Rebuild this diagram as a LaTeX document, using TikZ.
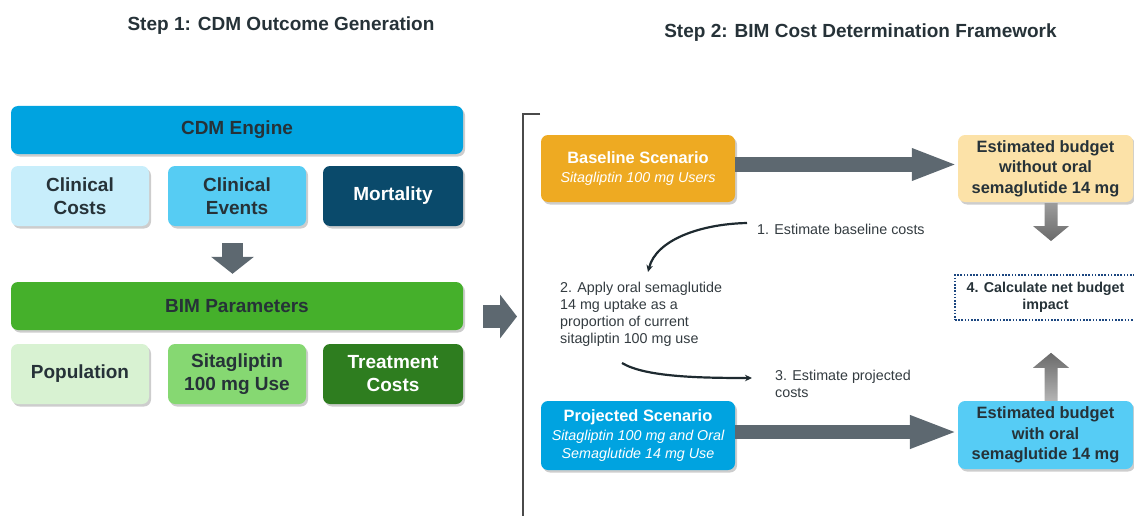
\documentclass[tikz,border=0pt]{standalone}
\usepackage{fontspec}
\setmainfont{Liberation Sans}
\usetikzlibrary{shadows,arrows.meta,calc}
\definecolor{txt}{HTML}{263238}
\definecolor{notetxt}{HTML}{333B40}
\definecolor{cdmblue}{HTML}{00A3E0}
\definecolor{ccblue}{HTML}{C8EEFB}
\definecolor{ceblue}{HTML}{56CCF3}
\definecolor{morblue}{HTML}{0A4A6B}
\definecolor{bimgreen}{HTML}{45B02B}
\definecolor{popgreen}{HTML}{D8F2D2}
\definecolor{sitgreen}{HTML}{86D872}
\definecolor{tcgreen}{HTML}{2E7D1F}
\definecolor{baseorange}{HTML}{EEAA22}
\definecolor{estpeach}{HTML}{FCE2A8}
\definecolor{estblue}{HTML}{56CCF5}
\definecolor{arrgray}{HTML}{5D6870}
\definecolor{gtop}{HTML}{9C9C9C}
\definecolor{gbot}{HTML}{6A6A6A}
\definecolor{glight}{HTML}{B4B4B4}
\definecolor{dotblue}{HTML}{1B4680}
\definecolor{curvecol}{HTML}{1E2A30}
\definecolor{brkgray}{HTML}{4A4A4A}
\newcommand\itfnt{\fontsize{14.3}{17.5}\selectfont\mdseries\itshape}
\begin{document}
\begin{tikzpicture}[x=1pt,y=-1pt,
  box/.style={rounded corners=7pt, inner sep=0pt, align=center, text=txt,
    font=\fontsize{19}{23}\selectfont\bfseries,
    drop shadow={shadow xshift=2pt, shadow yshift=-2.5pt, opacity=0.28, fill=black!70}},
  rbox/.style={rounded corners=7pt, inner sep=0pt, align=center, text=txt,
    font=\fontsize{16.4}{20.5}\selectfont\bfseries,
    drop shadow={shadow xshift=2pt, shadow yshift=-2.5pt, opacity=0.28, fill=black!70}},
  blockarrow/.style={draw=arrgray, color=arrgray},
  curve/.style={draw=curvecol, line width=2.2pt, -{Stealth[length=7pt,width=6.5pt]}},
  note/.style={inner sep=0pt, text=notetxt, font=\fontsize{14.3}{17.3}\selectfont, align=left},
  title/.style={inner sep=0pt, text=txt, font=\fontsize{19}{23}\selectfont\bfseries}
]
\useasboundingbox (0,0) rectangle (1134,516);
\clip (0,0) rectangle (1134,516);

% titles
\node[title] (title1) at (281,25.5) {Step 1: CDM Outcome Generation};
\node[title] (title2) at (860.5,33) {Step 2: BIM Cost Determination Framework};

% step 1 boxes
\node[box, fill=cdmblue, minimum width=452, minimum height=48] (cdm) at (237,130) {CDM Engine};
\node[box, fill=ccblue, minimum width=138, minimum height=60] (cc) at (80,196) {Clinical\\Costs};
\node[box, fill=ceblue, minimum width=138, minimum height=60] (ce) at (237,196) {Clinical\\Events};
\node[box, fill=morblue, text=white, minimum width=140, minimum height=60] (mo) at (393,196) {Mortality};
\node[box, fill=bimgreen, minimum width=452, minimum height=48] (bim) at (237,306) {BIM Parameters};
\node[box, fill=popgreen, minimum width=138, minimum height=60] (pop) at (80,374) {Population};
\node[box, fill=sitgreen, minimum width=138, minimum height=60] (sita) at (237,374) {Sitagliptin\\100 mg Use};
\node[box, fill=tcgreen, text=white, minimum width=140, minimum height=60] (tc) at (393,374) {Treatment\\Costs};

% step 1 arrows
\draw[blockarrow, line width=21pt, -{Triangle[length=17pt,width=42pt]}]
  ($(ce.south)+(-4.5,17)$) -- ($(bim.north)+(-4.5,-8)$);
\coordinate (brk) at (523,316.5);
\draw[blockarrow, line width=23pt, -{Triangle[length=17pt,width=43pt]}]
  ($(bim.east)+(20,10.5)$) -- ($(brk)+(-6,0)$);

% bracket
\draw[brkgray, line width=1.3pt] (540,114) -- (523,114) -- (523,520);

% step 2 boxes
\node[rbox, fill=baseorange, text=white, minimum width=194, minimum height=67] (base) at (638,168.5)
  {Baseline Scenario\\[-1pt]\itfnt Sitagliptin 100 mg Users};
\node[rbox, fill=estpeach, minimum width=175, minimum height=67] (estA) at (1045.5,168.5)
  {Estimated budget\\without oral\\semaglutide 14 mg};
\node[rbox, fill=cdmblue, text=white, minimum width=194, minimum height=69] (proj) at (638,435.5)
  {Projected Scenario\\[-2pt]\itfnt Sitagliptin 100 mg and Oral\\[-2.5pt]\itfnt Semaglutide 14 mg Use};
\node[rbox, fill=estblue, minimum width=175, minimum height=68] (estB) at (1045.5,435)
  {Estimated budget\\with oral\\semaglutide 14 mg};
\node[draw=dotblue, line width=1.9pt, dash pattern=on 1.6pt off 1.6pt, inner sep=0pt,
  minimum width=181, minimum height=45, align=center, text=txt,
  font=\fontsize{14.3}{17}\selectfont\bfseries] (net) at (1045.5,297.5)
  {4. Calculate net budget\\impact};

% big horizontal arrows
\draw[blockarrow, line width=15pt, -{Triangle[length=46pt,width=29pt]}]
  ($(base.east)+(0,-4)$) -- ($(estA.west)+(0,-4)$);
\draw[blockarrow, line width=14pt, -{Triangle[length=48pt,width=30pt]}]
  ($(proj.east)+(0,-3.5)$) -- ($(estB.west)+(0,-3)$);

% shaded vertical arrows
\coordinate (da) at ($(estA.south)+(5.5,1)$);
\coordinate (db) at ($(net.north)+(5.5,-33)$);
\shade[top color=gtop, bottom color=gbot]
  ($(da)+(-6.5,0)$) -- ($(db)+(-6.5,-15)$) -- ($(db)+(-18,-15)$) -- (db)
  -- ($(db)+(18,-15)$) -- ($(db)+(6.5,-15)$) -- ($(da)+(6.5,0)$) -- cycle;
\coordinate (ub) at ($(estB.north)+(5.5,0)$);
\coordinate (ut) at ($(estB.north)+(5.5,-48)$);
\shade[top color=gbot, bottom color=glight]
  ($(ub)+(-6.5,0)$) -- ($(ut)+(-6.5,15)$) -- ($(ut)+(-18,15)$) -- (ut)
  -- ($(ut)+(18,15)$) -- ($(ut)+(6.5,15)$) -- ($(ub)+(6.5,0)$) -- cycle;

% notes
\node[note, anchor=west] (t1) at (757,229) {1. Estimate baseline costs};
\node[note, anchor=north west] (t2) at (560,281.5)
  {2. Apply oral semaglutide\\14 mg uptake as a\\proportion of current\\sitagliptin 100 mg use};
\node[note, anchor=north west] (t3) at (775,369.5) {3. Estimate projected\\costs};

% curved arrows
\coordinate (c1s) at ($(t1.west)+(-10,-6)$);
\coordinate (c1e) at (648,272);
\draw[curve] (c1s) .. controls (700,224) and (656,240) .. (c1e);
\coordinate (c3s) at (622,363);
\coordinate (c3e) at (752,378);
\draw[curve] (c3s) .. controls (645,377) and (700,378) .. (c3e);
\end{tikzpicture}
\end{document}
